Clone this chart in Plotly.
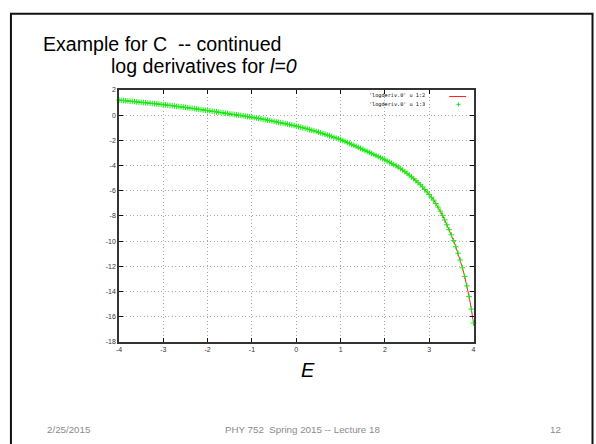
import plotly.graph_objects as go

# ---------------- data ----------------
E = [-4.00, -3.95, -3.90, -3.85, -3.80, -3.75, -3.70, -3.65, -3.60, -3.55,
     -3.50, -3.45, -3.40, -3.35, -3.30, -3.25, -3.20, -3.15, -3.10, -3.05,
     -3.00, -2.95, -2.90, -2.85, -2.80, -2.75, -2.70, -2.65, -2.60, -2.55,
     -2.50, -2.45, -2.40, -2.35, -2.30, -2.25, -2.20, -2.15, -2.10, -2.05,
     -2.00, -1.95, -1.90, -1.85, -1.80, -1.75, -1.70, -1.65, -1.60, -1.55,
     -1.50, -1.45, -1.40, -1.35, -1.30, -1.25, -1.20, -1.15, -1.10, -1.05,
     -1.00, -0.95, -0.90, -0.85, -0.80, -0.75, -0.70, -0.65, -0.60, -0.55,
     -0.50, -0.45, -0.40, -0.35, -0.30, -0.25, -0.20, -0.15, -0.10, -0.05,
     0.00, 0.05, 0.10, 0.15, 0.20, 0.25, 0.30, 0.35, 0.40, 0.45,
     0.50, 0.55, 0.60, 0.65, 0.70, 0.75, 0.80, 0.85, 0.90, 0.95,
     1.00, 1.05, 1.10, 1.15, 1.20, 1.25, 1.30, 1.35, 1.40, 1.45,
     1.50, 1.55, 1.60, 1.65, 1.70, 1.75, 1.80, 1.85, 1.90, 1.95,
     2.00, 2.05, 2.10, 2.15, 2.20, 2.25, 2.30, 2.35, 2.40, 2.45,
     2.50, 2.55, 2.60, 2.65, 2.70, 2.75, 2.80, 2.85, 2.90, 2.95,
     3.00, 3.05, 3.10, 3.15, 3.20, 3.25, 3.30, 3.35, 3.40, 3.45,
     3.50, 3.55, 3.60, 3.65, 3.70, 3.75, 3.80, 3.85, 3.90, 3.95,
     4.00]

LOGDERIV_U12 = [1.19, 1.175, 1.16, 1.14, 1.12, 1.105, 1.09, 1.07, 1.05, 1.035,
                1.02, 1.00, 0.98, 0.965, 0.95, 0.93, 0.91, 0.89, 0.87, 0.85,
                0.83, 0.81, 0.79, 0.77, 0.75, 0.725, 0.70, 0.68, 0.66, 0.635,
                0.61, 0.585, 0.56, 0.535, 0.51, 0.485, 0.46, 0.435, 0.41, 0.385,
                0.36, 0.335, 0.31, 0.285, 0.26, 0.235, 0.21, 0.185, 0.16, 0.13,
                0.10, 0.075, 0.05, 0.025, 0.00, -0.025, -0.05, -0.08, -0.11, -0.14,
                -0.17, -0.20, -0.23, -0.26, -0.29, -0.325, -0.36, -0.395, -0.43, -0.465,
                -0.50, -0.535, -0.57, -0.605, -0.64, -0.675, -0.71, -0.75, -0.79, -0.83,
                -0.87, -0.915, -0.96, -1.005, -1.05, -1.10, -1.15, -1.20, -1.25, -1.30,
                -1.35, -1.405, -1.46, -1.52, -1.58, -1.64, -1.70, -1.76, -1.82, -1.88,
                -1.94, -2.015, -2.09, -2.165, -2.24, -2.32, -2.40, -2.48, -2.56, -2.64,
                -2.72, -2.80, -2.88, -2.96, -3.04, -3.125, -3.21, -3.295, -3.38, -3.465,
                -3.55, -3.64, -3.73, -3.825, -3.92, -4.02, -4.12, -4.24, -4.36, -4.49,
                -4.62, -4.76, -4.90, -5.05, -5.20, -5.36, -5.52, -5.70, -5.90, -6.10,
                -6.30, -6.52, -6.75, -7.02, -7.30, -7.62, -7.95, -8.32, -8.70, -9.09,
                -9.50, -9.96, -10.45, -10.96, -11.50, -12.12, -12.80, -13.55, -14.40, -15.40,
                -16.50]

LOGDERIV_U13 = [1.19, 1.175, 1.16, 1.14, 1.12, 1.105, 1.09, 1.07, 1.05, 1.035,
                1.02, 1.00, 0.98, 0.965, 0.95, 0.93, 0.91, 0.89, 0.87, 0.85,
                0.83, 0.81, 0.79, 0.77, 0.75, 0.725, 0.70, 0.68, 0.66, 0.635,
                0.61, 0.585, 0.56, 0.535, 0.51, 0.485, 0.46, 0.435, 0.41, 0.385,
                0.36, 0.335, 0.31, 0.285, 0.26, 0.235, 0.21, 0.185, 0.16, 0.13,
                0.10, 0.075, 0.05, 0.025, 0.00, -0.025, -0.05, -0.08, -0.11, -0.14,
                -0.17, -0.20, -0.23, -0.26, -0.29, -0.325, -0.36, -0.395, -0.43, -0.465,
                -0.50, -0.535, -0.57, -0.605, -0.64, -0.675, -0.71, -0.75, -0.79, -0.83,
                -0.87, -0.915, -0.96, -1.005, -1.05, -1.10, -1.15, -1.20, -1.25, -1.30,
                -1.35, -1.405, -1.46, -1.52, -1.58, -1.64, -1.70, -1.76, -1.82, -1.88,
                -1.94, -2.015, -2.09, -2.165, -2.24, -2.32, -2.40, -2.48, -2.56, -2.64,
                -2.72, -2.80, -2.88, -2.96, -3.04, -3.125, -3.21, -3.295, -3.38, -3.465,
                -3.55, -3.64, -3.73, -3.825, -3.92, -4.02, -4.12, -4.24, -4.36, -4.49,
                -4.62, -4.76, -4.90, -5.05, -5.20, -5.36, -5.52, -5.70, -5.90, -6.10,
                -6.30, -6.52, -6.75, -7.02, -7.30, -7.62, -7.95, -8.32, -8.70, -9.09,
                -9.50, -9.96, -10.45, -10.96, -11.50, -12.12, -12.80, -13.55, -14.40, -15.40,
                -16.50]

X_TICKS = [-4, -3, -2, -1, 0, 1, 2, 3, 4]
X_TICK_LABELS = ["-4", "-3", "-2", "-1", "0", "1", "2", "3", "4"]
Y_TICKS = [-18, -16, -14, -12, -10, -8, -6, -4, -2, 0, 2]
Y_TICK_LABELS = ["-18", "-16", "-14", "-12", "-10", "-8", "-6", "-4", "-2", "0", "2"]

SERIES_NAMES = ["'logderiv.0' u 1:2", "'logderiv.0' u 1:3"]
TITLE_LINE_1 = "Example for C\u00a0 -- continued"
TITLE_LINE_2 = "log derivatives for <i>l=0</i>"
X_LABEL = "<i>E</i>"
FOOTER_LEFT = "2/25/2015"
FOOTER_CENTER = "PHY 752\u00a0 Spring 2015 -- Lecture 18"
FOOTER_RIGHT = "12"

# ---------------- layout helpers ----------------
W, H = 596, 444


def px(x):
    return x / W


def py(y):
    return 1 - y / H


PLOT_L, PLOT_R, PLOT_T, PLOT_B = 117, 474.5, 87.3, 343.3

fig = go.Figure()

fig.add_trace(go.Scatter(
    x=E, y=LOGDERIV_U12, mode="lines", name=SERIES_NAMES[0],
    line=dict(color="#ff2020", width=1), showlegend=False, cliponaxis=False,
))
fig.add_trace(go.Scatter(
    x=E, y=LOGDERIV_U13, mode="markers", name=SERIES_NAMES[1],
    marker=dict(symbol="cross-thin", size=4, line=dict(color="#10f010", width=1)),
    showlegend=False, cliponaxis=False,
))

axis_common = dict(
    showline=True, linecolor="#333333", linewidth=1.6, mirror="allticks",
    ticks="inside", ticklen=4, tickcolor="#111111", tickwidth=1,
    showgrid=True, gridcolor="#a8a8a8", gridwidth=1, griddash="1px,2.5px",
    zeroline=False, tickfont=dict(family="Liberation Sans", size=7, color="#333333"),
    layer="above traces",
)

fig.update_layout(
    width=W, height=H, autosize=False,
    margin=dict(l=0, r=0, t=0, b=0),
    paper_bgcolor="white", plot_bgcolor="white",
    xaxis=dict(domain=[px(PLOT_L), px(PLOT_R)], range=[-4, 4],
               tickvals=X_TICKS, ticktext=X_TICK_LABELS, **axis_common),
    yaxis=dict(domain=[py(PLOT_B), py(PLOT_T)], range=[-18, 2],
               tickvals=Y_TICKS, ticktext=Y_TICK_LABELS, **axis_common),
    showlegend=False,
)

# slide border
fig.add_shape(type="rect", xref="paper", yref="paper",
              x0=px(8), x1=px(594.5), y0=py(470), y1=py(10),
              line=dict(color="#111111", width=2), fillcolor="rgba(0,0,0,0)")

ann = []
ann.append(dict(text=TITLE_LINE_1, x=px(38), y=py(41), xanchor="left", yanchor="middle",
                font=dict(family="Liberation Sans", size=19.6, color="#000000")))
ann.append(dict(text=TITLE_LINE_2, x=px(107), y=py(63), xanchor="left", yanchor="middle",
                font=dict(family="Liberation Sans", size=19.6, color="#000000")))
ann.append(dict(text=X_LABEL, x=px(308), y=py(372), xanchor="center", yanchor="middle",
                font=dict(family="Liberation Sans", size=20, color="#000000")))
ann.append(dict(text=FOOTER_LEFT, x=px(42), y=py(432), xanchor="left", yanchor="middle",
                font=dict(family="Liberation Sans", size=9.75, color="#8a8a8a")))
ann.append(dict(text=FOOTER_CENTER, x=px(302.5), y=py(432), xanchor="center", yanchor="middle",
                font=dict(family="Liberation Sans", size=9.75, color="#8a8a8a")))
ann.append(dict(text=FOOTER_RIGHT, x=px(557), y=py(432), xanchor="center", yanchor="middle",
                font=dict(family="Liberation Sans", size=9.75, color="#8a8a8a")))
# gnuplot-style key (text left of sample)
ann.append(dict(text=SERIES_NAMES[0], x=px(428), y=py(93.3), xanchor="right", yanchor="middle",
                font=dict(family="DejaVu Sans Mono", size=5.2, color="#000000")))
ann.append(dict(text=SERIES_NAMES[1], x=px(428), y=py(101.7), xanchor="right", yanchor="middle",
                font=dict(family="DejaVu Sans Mono", size=5.2, color="#000000")))
for a in ann:
    a.update(xref="paper", yref="paper", showarrow=False)
fig.update_layout(annotations=ann)

fig.add_shape(type="line", xref="paper", yref="paper",
              x0=px(450), x1=px(467), y0=py(94), y1=py(94),
              line=dict(color="#ff2020", width=1))
fig.add_shape(type="line", xref="paper", yref="paper",
              x0=px(457.3), x1=px(461.3), y0=py(102), y1=py(102),
              line=dict(color="#10f010", width=1))
fig.add_shape(type="line", xref="paper", yref="paper",
              x0=px(459.3), x1=px(459.3), y0=py(100), y1=py(104),
              line=dict(color="#10f010", width=1))

fig.write_html("out.html")
